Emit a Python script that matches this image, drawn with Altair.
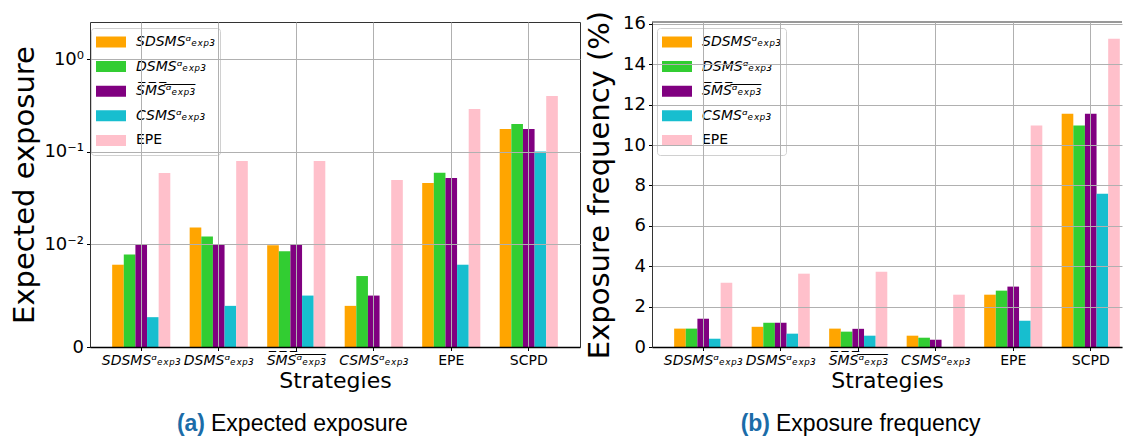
import altair as alt
import pandas as pd

# ---------------- data ----------------
strategies = ["SDSMSᵅₑₓₚ₃", "DSMSᵅₑₓₚ₃", "S̅M̅S̅ᵅ̅ₑ̅ₓ̅ₚ̅₃̅", "CSMSᵅₑₓₚ₃", "EPE", "SCPD"]
series = ["SDSMSᵅₑₓₚ₃", "DSMSᵅₑₓₚ₃", "S̅M̅S̅ᵅ̅ₑ̅ₓ̅ₚ̅₃̅", "CSMSᵅₑₓₚ₃", "EPE"]
colors = ["#FFA500", "#32CD32", "#800080", "#17BECF", "#FFC0CB"]

# (a) expected exposure, one list per series across strategies
exp_sdsms = [0.0080, 0.0151, 0.0099, 0.0040, 0.0458, 0.175]
exp_dsms = [0.0090, 0.0121, 0.0093, 0.0069, 0.0590, 0.199]
exp_sms = [0.0100, 0.0100, 0.0100, 0.0050, 0.0519, 0.175]
exp_csms = [0.0029, 0.0040, 0.0050, 0.0, 0.0080, 0.100]
exp_epe = [0.0587, 0.0790, 0.0790, 0.0494, 0.288, 0.398]

# (b) exposure frequency (%)
frq_sdsms = [0.91, 1.00, 0.91, 0.56, 2.59, 11.55]
frq_dsms = [0.91, 1.20, 0.76, 0.46, 2.79, 10.96]
frq_sms = [1.40, 1.20, 0.90, 0.36, 2.99, 11.55]
frq_csms = [0.41, 0.66, 0.56, 0.0, 1.30, 7.59]
frq_epe = [3.18, 3.63, 3.73, 2.59, 10.96, 15.26]

frq_ticks = [0, 2, 4, 6, 8, 10, 12, 14, 16]


def long_frame(lists):
    rows = []
    for s, vals in zip(series, lists):
        for st, v in zip(strategies, vals):
            rows.append({"strategy": st, "series": s, "value": v})
    return pd.DataFrame(rows)


df_exp = long_frame([exp_sdsms, exp_dsms, exp_sms, exp_csms, exp_epe])
df_frq = long_frame([frq_sdsms, frq_dsms, frq_sms, frq_csms, frq_epe])

FONT = "DejaVu Sans"
WA, WB, H = 490, 470, 325
LIN = 1.0 / (1.0 - 0.1)  # matplotlib symlog linear-region scale (linthresh=0.01)

upright = "datum.value == 'EPE' || datum.value == 'SCPD'"


def x_enc(pad_outer, align):
    return alt.X(
        "strategy:N",
        sort=strategies,
        scale=alt.Scale(paddingInner=0.25, paddingOuter=pad_outer, align=align),
        axis=alt.Axis(
            title="Strategies",
            titleFontSize=22,
            titleFontWeight="normal",
            titlePadding=3,
            labelFontSize=14,
            labelAngle=0,
            labelPadding=3,
            labelOverlap=False,
            labelLimit=300,
            labelFontStyle={"condition": {"test": upright, "value": "normal"}, "value": "italic"},
            tickSize=3.5,
            grid=True,
            gridColor="#b0b0b0",
            gridOpacity=1,
            domainWidth=1.5,
            zindex=1,
        ),
    )


def legend(x, y):
    return alt.Legend(
        title=None,
        orient="none",
        legendX=x,
        legendY=y,
        symbolType="M-1,-0.3667L1,-0.3667L1,0.3667L-1,0.3667Z",
        symbolSize=900,
        symbolStrokeWidth=0,
        symbolOpacity=1,
        clipHeight=18,
        rowPadding=6.6,
        labelOffset=10,
        labelFontSize=14,
        labelFont=FONT,
        labelFontStyle={"expr": "datum.value == 'EPE' ? 'normal' : 'italic'"},
        labelLimit=300,
        fillColor="white",
        strokeColor="#d0d0d0",
        cornerRadius=3,
        padding=5,
    )


def color_enc(x, y):
    return alt.Color(
        "series:N",
        sort=series,
        scale=alt.Scale(domain=series, range=colors),
        legend=legend(x, y),
    )


def caption(tag, text, split):
    c1 = alt.Chart(pd.DataFrame({"c": [tag]})).mark_text(
        font="Liberation Sans", fontSize=23, fontWeight="bold", color="#1b6ca8",
        align="right", baseline="alphabetic",
    ).encode(text="c:N", x=alt.value(split), y=alt.value(409))
    c2 = alt.Chart(pd.DataFrame({"c": [text]})).mark_text(
        font="Liberation Sans", fontSize=23, color="black",
        align="left", baseline="alphabetic",
    ).encode(text="c:N", x=alt.value(split + 6), y=alt.value(409))
    return c1, c2


# ---------------- (a) ----------------
bars_a = (
    alt.Chart(df_exp)
    .transform_calculate(
        t=f"datum.value <= 0.01 ? datum.value / 0.01 * {LIN} : {LIN} + log(datum.value / 0.01) / LN10"
    )
    .mark_bar()
    .encode(
        x=x_enc(0.286, 0.5),
        xOffset=alt.XOffset("series:N", sort=series, scale=alt.Scale(paddingInner=0, paddingOuter=0)),
        y=alt.Y(
            "t:Q",
            scale=alt.Scale(domain=[0, LIN + 2.40], nice=False, zero=True),
            axis=alt.Axis(
                title="Expected exposure",
                titleFontSize=29,
                titleFontWeight="normal",
                titlePadding=4,
                values=[0, LIN, LIN + 1, LIN + 2],
                labelExpr="datum.value < 0.5 ? '0' : datum.value < 1.5 ? '10⁻²' : datum.value < 2.5 ? '10⁻¹' : '10⁰'",
                labelFontSize=18,
                labelPadding=3,
                tickSize=3.5,
                grid=True,
                gridColor="#b0b0b0",
                gridOpacity=1,
                domain=False,
                zindex=1,
            ),
        ),
        color=color_enc(1, 6),
    )
)

cap_a1, cap_a2 = caption("(a)", "Expected exposure", 115)
chart_a = alt.layer(bars_a, cap_a1, cap_a2).properties(width=WA, height=H)

# ---------------- (b) ----------------
bars_b = (
    alt.Chart(df_frq)
    .mark_bar()
    .encode(
        x=x_enc(0.157, 0.91),
        xOffset=alt.XOffset("series:N", sort=series, scale=alt.Scale(paddingInner=0, paddingOuter=0)),
        y=alt.Y(
            "value:Q",
            scale=alt.Scale(domain=[0, 16.09], nice=False),
            axis=alt.Axis(
                title="Exposure frequency (%)",
                titleFontSize=29,
                titleFontWeight="normal",
                titlePadding=8,
                values=frq_ticks,
                labelFontSize=18,
                labelPadding=3,
                tickSize=3.5,
                grid=True,
                gridColor="#b0b0b0",
                gridOpacity=1,
                domain=True,
                domainColor="#333333",
                zindex=1,
            ),
        ),
        color=color_enc(5, 6),
    )
)

top_spine_b = alt.Chart(pd.DataFrame({"k": [0]})).mark_rule(color="#333333", strokeWidth=1).encode(
    x=alt.value(0), x2=alt.value(WB), y=alt.value(0)
)

cap_b1, cap_b2 = caption("(b)", "Exposure frequency", 118)
chart_b = (
    alt.layer(bars_b, top_spine_b, cap_b1, cap_b2)
    .properties(width=WB, height=H, view=alt.ViewBackground(stroke="transparent"))
)

chart = (
    alt.hconcat(chart_a, chart_b, spacing=72, bounds="flush")
    .resolve_scale(x="independent", y="independent", color="independent", xOffset="independent")
    .resolve_legend(color="independent")
    .properties(padding={"left": 2, "top": 1, "right": 0, "bottom": 0}, background="white")
    .configure_axis(
        labelFont=FONT,
        titleFont=FONT,
        labelColor="black",
        titleColor="black",
        tickColor="black",
        domainColor="black",
    )
    .configure_view(stroke="#333333", strokeWidth=1)
)

chart.save("out.html", embed_options={"renderer": "svg", "actions": False})
